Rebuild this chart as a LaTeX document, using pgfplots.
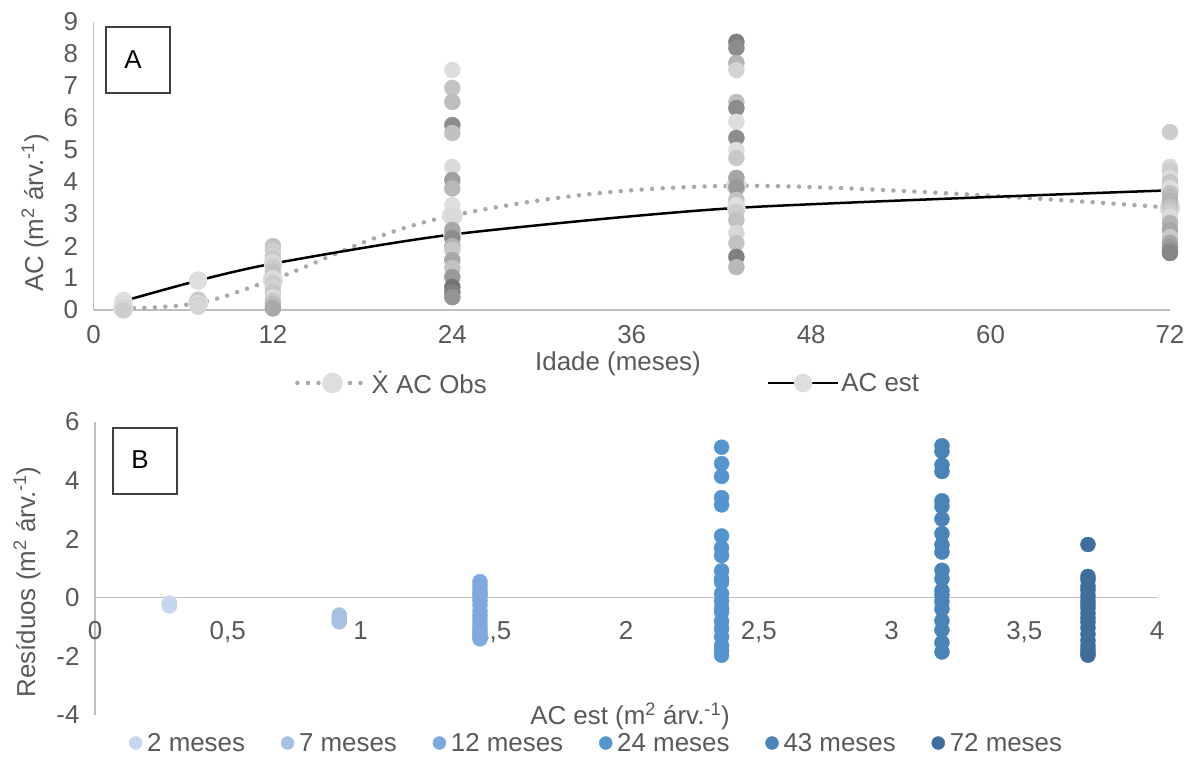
\documentclass[border=0pt]{standalone}
\usepackage{pgfplots}
\pgfplotsset{compat=1.18}
\usepackage{pgfplotstable}
\usepackage{fontspec}
\setmainfont{Liberation Sans}

\definecolor{axisgray}{HTML}{BFBFBF}
\definecolor{txtgray}{HTML}{595959}
\definecolor{dotgray}{HTML}{ADA7A7}
\definecolor{mkgray}{HTML}{DEDEDE}
\definecolor{boxline}{HTML}{404040}
\definecolor{c2}{HTML}{C6D6EC}
\definecolor{c7}{HTML}{A7C1E3}
\definecolor{c12}{HTML}{7DA9DC}
\definecolor{c24}{HTML}{5595CF}
\definecolor{c43}{HTML}{4A83B7}
\definecolor{c72}{HTML}{3F6D9E}

\newcommand{\lbl}{\fontsize{26}{30}\selectfont}
\newcommand{\unit}{(m\textsuperscript{2} árv.\textsuperscript{-1})}

% observed crown area per tree: age (months), AC (m2), grey level of the marker
\pgfplotstableread{
x y g
2 0.10 0.85
2 0.06 0.82
2 0.03 0.86
2 0.00 0.80
7 0.33 0.82
7 0.28 0.78
7 0.22 0.86
7 0.15 0.80
7 0.10 0.83
12 2.00 0.76
12 1.85 0.80
12 1.70 0.82
12 1.60 0.78
12 1.50 0.84
12 1.35 0.80
12 1.20 0.76
12 1.00 0.86
12 0.85 0.80
12 0.70 0.82
12 0.55 0.78
12 0.40 0.86
12 0.30 0.80
12 0.20 0.74
12 0.10 0.70
12 0.05 0.66
24 7.50 0.86
24 6.94 0.76
24 6.50 0.74
24 5.78 0.55
24 5.53 0.75
24 4.47 0.85
24 4.06 0.62
24 3.80 0.72
24 3.28 0.87
24 3.00 0.86
24 2.90 0.85
24 2.50 0.65
24 2.25 0.55
24 2.00 0.70
24 1.88 0.78
24 1.56 0.66
24 1.31 0.76
24 1.03 0.60
24 0.72 0.45
24 0.55 0.50
24 0.40 0.58
43 8.38 0.50
43 8.19 0.55
43 7.72 0.70
43 7.50 0.82
43 6.50 0.74
43 6.31 0.55
43 5.88 0.86
43 5.38 0.55
43 5.00 0.87
43 4.75 0.78
43 4.13 0.65
43 3.84 0.60
43 3.44 0.75
43 3.28 0.87
43 3.06 0.80
43 2.81 0.75
43 2.41 0.84
43 2.09 0.76
43 1.66 0.50
43 1.34 0.72
72 5.56 0.80
72 4.47 0.84
72 4.35 0.80
72 4.13 0.86
72 4.00 0.78
72 3.81 0.86
72 3.65 0.75
72 3.53 0.72
72 3.40 0.70
72 3.22 0.76
72 3.05 0.80
72 2.91 0.85
72 2.72 0.70
72 2.50 0.65
72 2.28 0.78
72 2.10 0.65
72 1.97 0.60
72 1.85 0.55
72 1.78 0.52
}\obs

% mean observed AC per age
\pgfplotstableread{
x y
2 0.05
7 0.22
12 0.95
24 2.95
43 3.88
72 3.20
}\meanobs

% estimated AC per age
\pgfplotstableread{
x y
2 0.28
7 0.92
12 1.45
24 2.36
43 3.19
72 3.74
}\est

% residuals (observed - estimated) against estimated AC, one table per age
\pgfplotstableread{
x y
0.28 -0.18
0.28 -0.22
0.28 -0.25
0.28 -0.28
}\rtwo
\pgfplotstableread{
x y
0.92 -0.59
0.92 -0.64
0.92 -0.70
0.92 -0.77
0.92 -0.82
}\rseven
\pgfplotstableread{
x y
1.45 0.55
1.45 0.40
1.45 0.25
1.45 0.15
1.45 0.05
1.45 -0.10
1.45 -0.25
1.45 -0.45
1.45 -0.60
1.45 -0.75
1.45 -0.90
1.45 -1.05
1.45 -1.15
1.45 -1.25
1.45 -1.35
1.45 -1.40
}\rtwelve
\pgfplotstableread{
x y
2.36 5.14
2.36 4.58
2.36 4.14
2.36 3.42
2.36 3.17
2.36 2.11
2.36 1.70
2.36 1.44
2.36 0.92
2.36 0.64
2.36 0.54
2.36 0.14
2.36 -0.11
2.36 -0.36
2.36 -0.48
2.36 -0.80
2.36 -1.05
2.36 -1.33
2.36 -1.64
2.36 -1.81
2.36 -1.96
}\rtwentyfour
\pgfplotstableread{
x y
3.19 5.19
3.19 5.00
3.19 4.53
3.19 4.31
3.19 3.31
3.19 3.12
3.19 2.69
3.19 2.19
3.19 1.81
3.19 1.56
3.19 0.94
3.19 0.65
3.19 0.25
3.19 0.09
3.19 -0.13
3.19 -0.38
3.19 -0.78
3.19 -1.10
3.19 -1.53
3.19 -1.85
}\rfortythree
\pgfplotstableread{
x y
3.74 1.82
3.74 0.73
3.74 0.61
3.74 0.39
3.74 0.26
3.74 0.07
3.74 -0.09
3.74 -0.21
3.74 -0.34
3.74 -0.52
3.74 -0.69
3.74 -0.83
3.74 -1.02
3.74 -1.24
3.74 -1.46
3.74 -1.64
3.74 -1.77
3.74 -1.89
3.74 -1.96
}\rseventytwo

\pgfplotsset{
  panel/.style={
    scale only axis, clip=false,
    axis line style={axisgray, line width=1.3bp},
    major tick length=0pt,
    tick label style={font=\lbl, text=txtgray},
    /pgf/number format/assume math mode=true,
    yticklabel style={xshift=-12bp},
  },
  dotlegend/.style={legend image code/.code={%
    \draw[##1, mark size=6.5bp] plot coordinates {(0bp,0bp)};}},
}

\begin{document}
\begin{tikzpicture}
\useasboundingbox (0,0) rectangle (1194bp,758bp);

% ---- panel A: crown area against age
\begin{axis}[panel,
  at={(93.5bp,448bp)}, anchor=south west,
  width=1076.5bp, height=288bp,
  xmin=0, xmax=72, ymin=0, ymax=9,
  xtick={0,12,24,36,48,60,72}, ytick={0,1,...,9},
  axis x line*=bottom, axis y line*=left,
  xticklabel style={yshift=-12bp},
  colormap={greys}{gray(0cm)=(0); gray(1cm)=(1)},
  point meta min=0, point meta max=1,
  legend columns=2,
  legend style={at={(0.1872,-0.2535)}, anchor=west, draw=none, fill=none,
    inner sep=0pt, font=\lbl, text=txtgray,
    /tikz/every even column/.append style={column sep=278bp}},
  legend image code/.code={\draw[mark repeat=2, mark phase=2, #1]
    plot coordinates {(0bp,0bp) (35bp,0bp) (70bp,0bp)};},
]
\addplot[dotgray, line width=4.5bp, dash pattern=on 0bp off 10.5bp, line cap=round,
  smooth, tension=0.6, mark=*, mark size=8bp,
  mark options={solid, draw=mkgray, fill=mkgray}] table {\meanobs};
\addlegendentry{\.{X} AC Obs}
\addplot[black, line width=2.5bp, smooth, tension=0.4, mark=*, mark size=8bp,
  mark options={draw=mkgray, fill=mkgray}] table {\est};
\addlegendentry{AC est}
\addplot[scatter, only marks, mark=*, mark size=8bp, point meta=explicit,
  scatter/use mapped color={draw=mapped color, fill=mapped color},
  forget plot] table[meta=g] {\obs};
\end{axis}

% ---- panel B: residuals against estimated crown area
\begin{axis}[panel,
  at={(95bp,43bp)}, anchor=south west,
  width=1062bp, height=293bp,
  xmin=0, xmax=4, ymin=-4, ymax=6,
  xtick={0,0.5,1,1.5,2,2.5,3,3.5,4}, ytick={-4,-2,0,2,4,6},
  axis x line*=bottom, axis y line*=left,
  x axis line style={draw=none},
  xticklabel style={yshift=97bp},
  extra y ticks={0}, extra y tick labels={},
  extra y tick style={grid=major, major grid style={axisgray, line width=1.3bp}},
  /pgf/number format/use comma,
  legend columns=6,
  legend style={at={(0.032,-0.0956)}, anchor=west, draw=none, fill=none,
    inner sep=0pt, font=\lbl, text=txtgray,
    nodes={inner ysep=0pt},
    /tikz/every even column/.append style={column sep=34bp}},
]
\addplot[only marks, mark=*, mark size=7.5bp, c2, dotlegend] table {\rtwo};
\addlegendentry{\hspace{3bp}2 meses}
\addplot[only marks, mark=*, mark size=7.5bp, c7, dotlegend] table {\rseven};
\addlegendentry{\hspace{3bp}7 meses}
\addplot[only marks, mark=*, mark size=7.5bp, c12, dotlegend] table {\rtwelve};
\addlegendentry{\hspace{3bp}12 meses}
\addplot[only marks, mark=*, mark size=7.5bp, c24, dotlegend] table {\rtwentyfour};
\addlegendentry{\hspace{3bp}24 meses}
\addplot[only marks, mark=*, mark size=7.5bp, c43, dotlegend] table {\rfortythree};
\addlegendentry{\hspace{3bp}43 meses}
\addplot[only marks, mark=*, mark size=7.5bp, c72, dotlegend] table {\rseventytwo};
\addlegendentry{\hspace{3bp}72 meses}
\end{axis}

% axis titles and panel tags
\node[font=\lbl, text=txtgray] at (618bp,394bp) {Idade (meses)};
\node[font=\lbl, text=txtgray, rotate=90] at (35bp,545bp) {AC \unit};
\node[font=\lbl, text=txtgray] at (630bp,42bp) {AC est \unit};
\node[font=\lbl, text=txtgray, rotate=90] at (27bp,176bp) {Resíduos \unit};
\draw[boxline, line width=1.2bp] (106bp,731bp) rectangle (170bp,665bp);
\node[font=\lbl] at (133bp,698bp) {A};
\draw[boxline, line width=1.2bp] (113bp,330bp) rectangle (177bp,264bp);
\node[font=\lbl] at (140bp,298bp) {B};
\end{tikzpicture}
\end{document}
